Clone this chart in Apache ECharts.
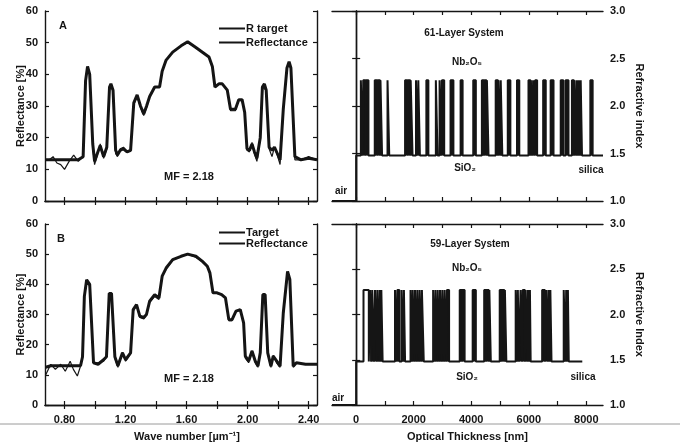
<!DOCTYPE html>
<html>
<head>
<meta charset="utf-8">
<script src="https://cdn.jsdelivr.net/npm/echarts@6/dist/echarts.min.js"></script>
<style>
  html, body { margin: 0; padding: 0; background: #fff; }
  #chart { width: 680px; height: 443px; }
</style>
</head>
<body>
<div id="chart"></div>
<script>
// panel A: target and computed reflectance (%)
const waveNumberA = [0.672, 0.70, 0.725, 0.75, 0.775, 0.80, 0.83, 0.86, 0.89, 0.922,
  0.938, 0.951, 0.965, 0.985, 0.997, 1.015, 1.034, 1.056, 1.077, 1.095,
  1.104, 1.118, 1.135, 1.147, 1.165, 1.186, 1.21, 1.233, 1.254, 1.276,
  1.298, 1.319, 1.338, 1.358, 1.391, 1.423, 1.44, 1.466, 1.509, 1.564,
  1.607, 1.661, 1.704, 1.747, 1.769, 1.786, 1.812, 1.834, 1.867, 1.888,
  1.92, 1.942, 1.964, 1.981, 1.996, 2.012, 2.029, 2.045, 2.061, 2.083,
  2.097, 2.11, 2.122, 2.141, 2.16, 2.176, 2.195, 2.213, 2.234, 2.258,
  2.272, 2.284, 2.31, 2.35, 2.40, 2.455]
const targetA = [13, 13, 13, 13, 13, 13, 13, 13, 13, 14,
  38, 42.5, 40, 18, 12.5, 15, 17.5, 14, 17, 36,
  37, 35, 16, 14.5, 16, 16.5, 15.5, 16, 31, 33.5,
  30, 27.5, 30, 33, 36, 36, 41, 44.5, 47, 49,
  50.3, 48.5, 47, 45.5, 42.5, 36, 37, 37, 35, 29,
  29, 32, 32, 28, 16.5, 16, 18, 15.5, 13.5, 20,
  36, 37, 35, 17, 16, 17, 15, 13, 29, 42,
  44, 42, 14, 13, 13.5, 13]
const reflectanceA = [13, 13, 14, 12, 11.5, 10, 12.5, 14.5, 12.5, 14,
  38, 42, 40, 17, 11.5, 14.5, 18, 13.5, 16.5, 35.5,
  36.5, 34.5, 15, 14, 16.5, 17, 15.5, 16, 30.5, 33,
  29.5, 27, 29.5, 33, 36, 36, 41, 44.5, 47, 49,
  50, 48.5, 47, 45.5, 42.5, 36, 37, 37, 35, 28.5,
  28.5, 32, 31.5, 28, 16, 15.5, 18.5, 15, 12.5, 19.5,
  36, 36.5, 35, 16.5, 14, 17, 14.5, 11.5, 28.5, 42,
  43.5, 41.5, 13, 13, 14, 13]

// panel B
const waveNumberB = [0.677, 0.71, 0.74, 0.775, 0.805, 0.837, 0.858, 0.884, 0.905, 0.918,
  0.93, 0.945, 0.965, 0.99, 1.02, 1.056, 1.075, 1.093, 1.108, 1.13,
  1.15, 1.18, 1.20, 1.233, 1.25, 1.272, 1.294, 1.32, 1.337, 1.358,
  1.391, 1.419, 1.44, 1.466, 1.509, 1.564, 1.607, 1.661, 1.704, 1.736,
  1.753, 1.773, 1.80, 1.83, 1.855, 1.877, 1.898, 1.924, 1.952, 1.974,
  1.985, 2.007, 2.029, 2.05, 2.068, 2.083, 2.10, 2.115, 2.132, 2.153,
  2.168, 2.19, 2.213, 2.234, 2.262, 2.277, 2.299, 2.32, 2.38, 2.455]
const targetB = [12.5, 13, 13, 13, 13, 13, 13, 13, 13, 16,
  36, 41.5, 40, 14, 13.5, 15, 16, 37, 37, 16,
  13, 17.3, 15, 17.3, 31.6, 33.3, 29.4, 29, 30, 34.4,
  36.6, 35.5, 42.7, 45.4, 48.2, 49.3, 50, 49.3, 47.6, 46,
  43.8, 37.2, 37.2, 36.6, 35.5, 28.3, 28.3, 31.1, 31.6, 27.2,
  16.2, 14.6, 17.9, 14.6, 12.9, 17.3, 36.6, 36.6, 17.3, 12.9,
  16.2, 14.6, 12.9, 30.5, 44.3, 41.6, 12.9, 14, 13.5, 13.5]
const reflectanceB = [10, 13.5, 11.8, 13.5, 11.2, 14.5, 11.8, 9.6, 12.9, 17,
  36, 40.5, 39.5, 14, 14, 14.5, 16, 36.5, 36, 15.5,
  12.5, 17.5, 14.5, 17, 31, 33, 29, 28.5, 30, 34,
  36, 35, 42.5, 45, 48, 49.3, 50, 49, 47.5, 45.8,
  43.5, 37, 37, 36.5, 35.5, 28, 28, 31, 31.5, 27,
  15.5, 14, 18, 14, 12.5, 17, 36, 36, 17, 12.5,
  16.5, 14, 12.5, 30, 43.5, 41, 12.5, 14, 13.5, 13.5]

// refractive index profiles, Nb2O5 layers as [start, end] optical thickness (nm)
const nAir = 1.0
const nSiO2 = 1.48
const nNb2O5 = 2.27
const layers61 = [[163, 230], [245, 320], [335, 427], [646, 740], [755, 830], [845, 900],
  [1090, 1150], [1700, 1790], [1805, 1880], [1895, 1960], [2080, 2140], [2160, 2215],
  [2440, 2510], [2770, 2830], [2900, 2960], [2980, 3060], [3280, 3380], [3630, 3700],
  [4070, 4160], [4370, 4440], [4455, 4530], [4545, 4600], [4850, 4930], [4945, 5010],
  [5025, 5080], [5270, 5360], [5590, 5670], [5990, 6060], [6075, 6120], [6150, 6200],
  [6220, 6290], [6500, 6590], [6760, 6860], [7110, 7200], [7280, 7380], [7500, 7570],
  [7585, 7650], [7665, 7720], [7735, 7790], [7805, 7850], [8140, 8220]]
const layers59 = [[255, 440], [485, 530], [560, 620], [655, 720], [735, 800], [815, 860],
  [875, 920], [1350, 1410], [1430, 1500], [1580, 1640], [1660, 1700], [1890, 1950],
  [1965, 2030], [2045, 2110], [2125, 2190], [2205, 2270], [2285, 2350], [2675, 2740],
  [2755, 2820], [2835, 2900], [2915, 2980], [2995, 3060], [3075, 3140], [3155, 3230],
  [3600, 3680], [3700, 3770], [4050, 4160], [4450, 4520], [4540, 4610], [4630, 4680],
  [4990, 5060], [5080, 5150], [5170, 5220], [5545, 5600], [5620, 5660], [5715, 5770],
  [5790, 5865], [5890, 5950], [5970, 6020], [6040, 6065], [6465, 6560], [6600, 6660],
  [6680, 6730], [6750, 6790], [7215, 7280], [7300, 7340], [7360, 7390]]
const end61 = 8580
const end59 = 7860

// axis ranges and ticks
const waveMin = 0.672, waveMax = 2.455
const thickMin = -840, thickMax = 8580
const waveTicks = [0.8, 1.0, 1.2, 1.4, 1.6, 1.8, 2.0, 2.2, 2.4]
const waveLabels = [0.8, 1.2, 1.6, 2.0, 2.4]
const thickTicks = [0, 1000, 2000, 3000, 4000, 5000, 6000, 7000, 8000]
const thickLabels = [0, 2000, 4000, 6000, 8000]

const INK = '#151515'
const FONT = 'Liberation Sans, Arial, sans-serif'

const zip = (xs, ys) => xs.map((x, i) => [x, ys[i]])

const profile = (layers, end) => {
  const pts = [[thickMin, nAir], [0, nAir], [0, nSiO2]]
  layers.forEach(([s, e]) => {
    pts.push([s, nSiO2], [s, nNb2O5], [e, nNb2O5], [e, nSiO2])
  })
  pts.push([end, nSiO2])
  return pts
}

// thin layers print as solid black bars; wide ones stay open
const thinFill = layers => {
  const pts = []
  layers.filter(([s, e]) => e - s < 150).forEach(([s, e]) => {
    pts.push([s, nSiO2], [s, nNb2O5], [e, nNb2O5], [e, nSiO2])
  })
  return pts
}

const lbl = { color: INK, fontSize: 11, fontWeight: 'bold', fontFamily: FONT }

const xAx = (grid, min, max, ticks, labels, pos, fmt, name, pad) => ({
  type: 'value', gridIndex: grid, min: min, max: max, position: pos,
  axisLine: { lineStyle: { color: INK, width: 1.4 } },
  axisTick: { inside: true, length: 4, customValues: ticks, lineStyle: { color: INK, width: 1.2 } },
  axisLabel: labels ? Object.assign({ customValues: labels, formatter: fmt, margin: 9 }, lbl) : { show: false },
  splitLine: { show: false },
  name: name || '', nameLocation: 'middle', nameGap: 26, nameMoveOverlap: false,
  nameTextStyle: Object.assign({ padding: pad || 0 }, lbl)
})

const yAx = (grid, min, max, interval, pos, showLabel, fmt, name, rot, gap) => ({
  type: 'value', gridIndex: grid, min: min, max: max, interval: interval, position: pos,
  axisLine: { show: true, lineStyle: { color: INK, width: 1.4 } },
  axisTick: { show: true, inside: true, length: 4, lineStyle: { color: INK, width: 1.2 } },
  axisLabel: showLabel ? Object.assign({ formatter: fmt, margin: 7 }, lbl) : { show: false },
  splitLine: { show: false },
  name: name || '', nameLocation: 'middle', nameGap: gap || 25, nameRotate: rot,
  nameMoveOverlap: false,
  nameTextStyle: lbl
})

const wFmt = v => v.toFixed(2)
const tFmt = v => String(v)
const nFmt = v => v.toFixed(1)

const chart = echarts.init(document.getElementById('chart'))

const txt = (x, y, text, extra) => ({
  type: 'text', x: x, y: y,
  style: Object.assign({ text: text, fill: INK, font: 'bold 11px ' + FONT, align: 'center', verticalAlign: 'middle' }, extra || {})
})
const small = { font: 'bold 10px ' + FONT }

const legendBase = {
  orient: 'vertical', left: 213, itemWidth: 26, itemHeight: 11, selectedMode: false,
  itemStyle: { opacity: 0 },
  textStyle: Object.assign({ padding: [0, 0, 0, -4] }, lbl)
}

const profileLine = (name, x, y, data) => ({
  name: name, type: 'line', xAxisIndex: x, yAxisIndex: y, symbol: 'none',
  itemStyle: { color: INK }, lineStyle: { color: INK, width: 2 }, data: data
})
const profileFill = (x, y, data) => ({
  type: 'line', xAxisIndex: x, yAxisIndex: y, symbol: 'none', z: 1,
  lineStyle: { width: 0 }, areaStyle: { color: INK, opacity: 1, origin: nSiO2 }, data: data
})

const option = {
  animation: false,
  backgroundColor: '#fff',
  textStyle: { fontFamily: FONT },
  grid: [
    { left: 45, top: 11, width: 272, height: 190 },
    { left: 332, top: 11, width: 271, height: 190 },
    { left: 45, top: 224, width: 272, height: 185 },
    { left: 332, top: 224, width: 271, height: 185 }
  ],
  xAxis: [
    xAx(0, waveMin, waveMax, waveTicks, null, 'bottom'),
    xAx(0, waveMin, waveMax, waveTicks, null, 'top'),
    xAx(1, thickMin, thickMax, thickTicks, null, 'bottom'),
    xAx(1, thickMin, thickMax, thickTicks, null, 'top'),
    xAx(2, waveMin, waveMax, waveTicks, waveLabels, 'bottom', wFmt, 'Wave number [µm⁻¹]', [0, 0, 0, 12]),
    xAx(2, waveMin, waveMax, waveTicks, null, 'top'),
    xAx(3, thickMin, thickMax, thickTicks, thickLabels, 'bottom', tFmt, 'Optical Thickness [nm]'),
    xAx(3, thickMin, thickMax, thickTicks, null, 'top')
  ],
  yAxis: [
    yAx(0, 0, 60, 10, 'left', true, tFmt, 'Reflectance [%]', 90, 19),
    yAx(0, 0, 60, 10, 'right', false),
    yAx(1, 1, 3, 0.5, 'right', true, nFmt, 'Refractive index', -90, 31),
    yAx(1, 1, 3, 0.5, 'left', false),
    yAx(2, 0, 60, 10, 'left', true, tFmt, 'Reflectance [%]', 90, 19),
    yAx(2, 0, 60, 10, 'right', false),
    yAx(3, 1, 3, 0.5, 'right', true, nFmt, 'Refractive Index', -90, 31),
    yAx(3, 1, 3, 0.5, 'left', false)
  ],
  legend: [
    Object.assign({ data: ['R target', 'Reflectance'], top: 18, itemGap: 3 }, legendBase),
    Object.assign({ data: ['Target', 'Reflectance'], top: 222, itemGap: 0 }, legendBase)
  ],
  series: [
    { name: 'R target', type: 'line', xAxisIndex: 0, yAxisIndex: 0, symbol: 'none',
      itemStyle: { color: INK }, lineStyle: { color: INK, width: 3 }, data: zip(waveNumberA, targetA) },
    { name: 'Reflectance', type: 'line', xAxisIndex: 0, yAxisIndex: 0, symbol: 'none',
      itemStyle: { color: INK }, lineStyle: { color: INK, width: 1.2 }, data: zip(waveNumberA, reflectanceA) },
    profileFill(2, 2, thinFill(layers61)),
    profileLine('61-Layer System', 2, 2, profile(layers61, end61)),
    { name: 'Target', type: 'line', xAxisIndex: 4, yAxisIndex: 4, symbol: 'none',
      itemStyle: { color: INK }, lineStyle: { color: INK, width: 3 }, data: zip(waveNumberB, targetB) },
    { name: 'Reflectance', type: 'line', xAxisIndex: 4, yAxisIndex: 4, symbol: 'none',
      itemStyle: { color: INK }, lineStyle: { color: INK, width: 1.2 }, data: zip(waveNumberB, reflectanceB) },
    profileFill(6, 6, thinFill(layers59)),
    profileLine('59-Layer System', 6, 6, profile(layers59, end59))
  ],
  graphic: [
    txt(63, 26, 'A'),
    txt(61, 239, 'B'),
    txt(189, 177, 'MF = 2.18'),
    txt(189, 379, 'MF = 2.18'),
    txt(464, 33, '61-Layer System', small),
    txt(467, 62, 'Nb₂O₅', small),
    txt(465, 168, 'SiO₂', small),
    txt(591, 170, 'silica', small),
    txt(341, 191, 'air', small),
    txt(470, 244, '59-Layer System', small),
    txt(467, 268, 'Nb₂O₅', small),
    txt(467, 377, 'SiO₂', small),
    txt(583, 377, 'silica', small),
    txt(338, 398, 'air', small),
    { type: 'line', z: -1, shape: { x1: 0, y1: 424, x2: 680, y2: 424 },
      style: { stroke: '#9a9a9a', lineWidth: 1 } }
  ]
}

chart.setOption(option)
window.addEventListener('resize', function () {
  chart.resize()
})
</script>
</body>
</html>
